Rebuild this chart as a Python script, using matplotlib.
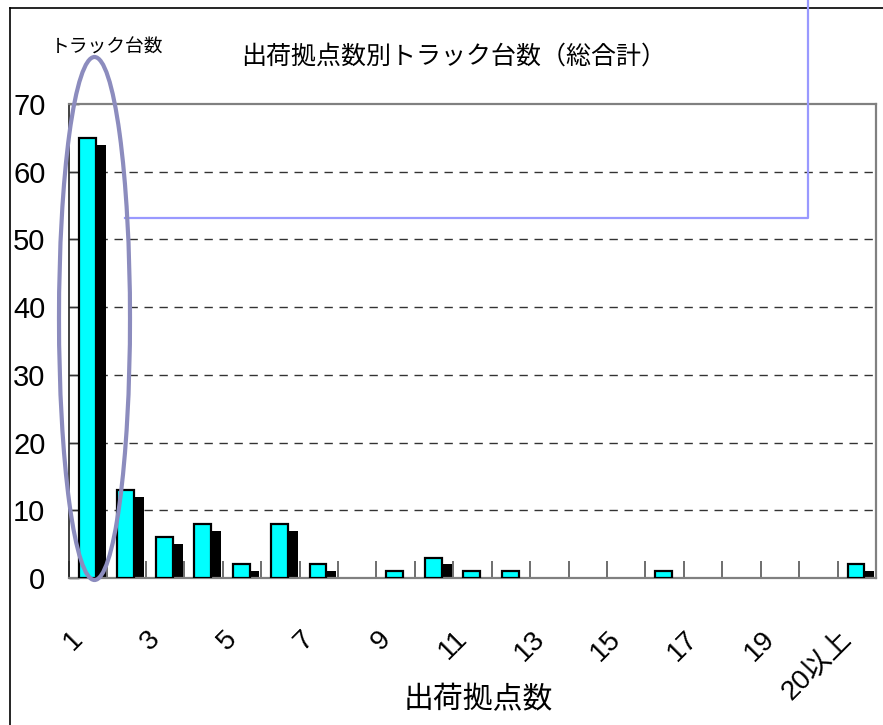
import matplotlib
matplotlib.use("Agg")
import matplotlib.pyplot as plt
import numpy as np
from matplotlib import font_manager
from matplotlib.patches import Ellipse
from matplotlib.lines import Line2D
from matplotlib.transforms import ScaledTranslation

# ---- data ----
categories = [str(i) for i in range(1, 21)] + ["20以上"]
series_cyan = [65, 13, 6, 8, 2, 8, 2, 0, 1, 3, 1, 1, 0, 0, 0, 1, 0, 0, 0, 0, 2]
series_black = [64, 12, 5, 7, 1, 7, 1, 0, 0, 2, 0, 0, 0, 0, 0, 0, 0, 0, 0, 0, 1]
y_ticks = [0, 10, 20, 30, 40, 50, 60, 70]
title = "出荷拠点数別トラック台数（総合計）"
xlabel = "出荷拠点数"
ylabel = "トラック台数"

# ---- fonts ----
names = {f.name for f in font_manager.fontManager.ttflist}
num_font = "Liberation Sans Narrow" if "Liberation Sans Narrow" in names else "Liberation Sans"
jp = "Noto Sans CJK JP"
plt.rcParams['font.family'] = [num_font, jp, 'DejaVu Sans']

W, H = 883, 725
fig = plt.figure(figsize=(W / 100, H / 100), dpi=100)
fig.patch.set_facecolor("white")

def fx(x):
    return x / W

def fy(y):
    return 1 - y / H

L, R, T, B = 69, 876, 104, 578
ax = fig.add_axes([fx(L), fy(B), fx(R) - fx(L), fy(T) - fy(B)])

x = np.arange(len(categories))
cyan = np.array(series_cyan)
black = np.array(series_black)
mb = black > 0
mc = cyan > 0
ax.bar(x[mb] + 0.235, black[mb], width=0.44, color="black", edgecolor="black",
       linewidth=0, zorder=2)
ax.bar(x[mc] - 0.02, cyan[mc], width=0.44, color="#00FFFF", edgecolor="black",
       linewidth=1.6, zorder=3)

ax.set_xlim(-0.5, len(categories) - 0.5)
ax.set_ylim(0, 70)
ax.set_yticks(y_ticks)
ax.set_yticklabels([str(v) for v in y_ticks], fontsize=21, family=[num_font, jp])
ax.tick_params(axis='y', direction='in', length=7, width=1, color='black', pad=17)

# grid lines
ax.set_axisbelow(True)
for v in y_ticks[1:-1]:
    ax.axhline(v, color="#333333", linewidth=1, linestyle=(0, (6, 4.8)), zorder=1)

# x ticks: labels every other category, tick marks at boundaries
lab_idx = [i for i in range(len(categories)) if i % 2 == 0]
ax.set_xticks(lab_idx)
ax.set_xticklabels([categories[i] for i in lab_idx], rotation=45, ha='right',
                   va='center', rotation_mode='anchor', fontsize=20,
                   family=[num_font, jp])
ax.tick_params(axis='x', which='major', length=0, pad=41)
ax.set_xticks(np.arange(len(categories) + 1) - 0.5, minor=True)
ax.tick_params(axis='x', which='minor', direction='in', length=12, width=1.2,
               color='#555555')
off = ScaledTranslation(-9 / 100, 0, fig.dpi_scale_trans)
for lab in ax.get_xticklabels():
    lab.set_transform(lab.get_transform() + off)

for s in ['top', 'right', 'bottom']:
    ax.spines[s].set_color('#808080')
    ax.spines[s].set_linewidth(1.6)
ax.spines['left'].set_color('#222222')
ax.spines['left'].set_linewidth(1.2)

# texts
fig.text(fx(454), fy(57), title, fontsize=18, family=[jp], ha='center', va='center')
fig.text(fx(107), fy(47), ylabel, fontsize=13.5, family=[jp], ha='center', va='center')
fig.text(fx(478), fy(700), xlabel, fontsize=21.5, family=[jp], ha='center', va='center')

# chart area border
fig.add_artist(Line2D([fx(10), 1], [fy(8), fy(8)], color='black', linewidth=1.2,
                      transform=fig.transFigure))
fig.add_artist(Line2D([fx(10), fx(10)], [fy(8), 0], color='black', linewidth=1.2,
                      transform=fig.transFigure))

# callout connector
fig.add_artist(Line2D([fx(808), fx(808), fx(125)], [1, fy(217.5), fy(217.5)],
                      color='#9999FF', linewidth=1.6, transform=fig.transFigure,
                      zorder=5))

# highlight ellipse
fig.add_artist(Ellipse((fx(94.5), fy(318.5)), 71 / W, 523 / H, fill=False,
                       edgecolor='#8C8CBE', linewidth=3, transform=fig.transFigure,
                       zorder=6))

fig.savefig("out.png", dpi=100)
